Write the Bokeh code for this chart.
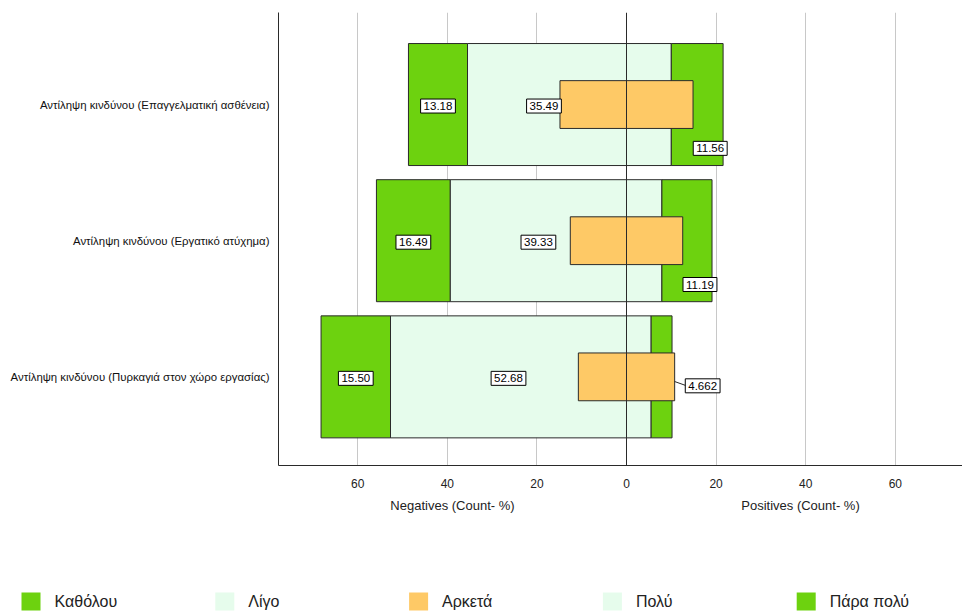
from bokeh.plotting import figure
from bokeh.layouts import column
from bokeh.models import FixedTicker, Span, Label, Range1d
from bokeh.embed import file_html
from bokeh.resources import INLINE

# ---------------- data ----------------
categories = [
    "Αντίληψη κινδύνου (Επαγγελματική ασθένεια)",
    "Αντίληψη κινδύνου (Εργατικό ατύχημα)",
    "Αντίληψη κινδύνου (Πυρκαγιά στον χώρο εργασίας)",
]
levels = ["Καθόλου", "Λίγο", "Αρκετά", "Πολύ", "Πάρα πολύ"]
katholou = [13.18, 16.49, 15.50]
ligo = [35.49, 39.33, 52.68]
arketa = [29.7, 25.1, 21.5]
poly = [10.0, 7.9, 5.5]
para_poly = [11.56, 11.19, 4.662]
x_ticks = [-60, -40, -20, 0, 20, 40, 60]
neg_title = "Negatives (Count- %)"
pos_title = "Positives (Count- %)"

# ---------------- style ----------------
GREEN = "#6dd20f"
LIGHT = "#e6fcec"
ORANGE = "#fec966"
EDGE = "#2a2a2a"
FONT = "Liberation Sans"
level_colors = [GREEN, LIGHT, ORANGE, LIGHT, GREEN]

W = 962
H1, H2 = 490, 122
B_LEFT, B_TOP, B_BOTTOM = 278, 12, 23
X_START = -77.68
PX_PER_UNIT = 4.48
X_END = X_START + (W - B_LEFT) / PX_PER_UNIT
Y_START, Y_END = -0.651, 2.676
BAR_H = 0.896
MID_H = 0.351

frame_w = W - B_LEFT
frame_h = H1 - B_TOP - B_BOTTOM
px_x = frame_w / (X_END - X_START)
px_y = frame_h / (Y_END - Y_START)

p = figure(width=W, height=H1, output_backend="svg", toolbar_location=None,
           x_range=Range1d(X_START, X_END), y_range=Range1d(Y_START, Y_END),
           min_border_left=B_LEFT, min_border_top=B_TOP,
           min_border_bottom=B_BOTTOM, min_border_right=0,
           background_fill_color="white", border_fill_color="white")
p.outline_line_color = None
p.frame_align = False

n = len(categories)
ypos = [n - 1 - i for i in range(n)]

def bar(left, right, h, color):
    r = p.hbar(y=ypos, left=left, right=right, height=h,
               fill_color=color, line_color=None)
    p.hbar(y=ypos, left=left, right=right, height=h,
           fill_color=None, line_color=EDGE, line_width=1)
    return r

k_left = [-(k + l) for k, l in zip(katholou, ligo)]
k_right = [-l for l in ligo]
l_left = [-l for l in ligo]
zeros = [0] * n
po_right = list(poly)
pp_left = list(poly)
pp_right = [a + b for a, b in zip(poly, para_poly)]
a_left = [-a / 2 for a in arketa]
a_right = [a / 2 for a in arketa]

bar(k_left, k_right, BAR_H, GREEN)
bar(l_left, zeros, BAR_H, LIGHT)
bar(zeros, po_right, BAR_H, LIGHT)
bar(pp_left, pp_right, BAR_H, GREEN)

# ---------------- value labels ----------------
LABEL_HALF_PX = 16
label_specs = []   # (x, y, text)
leader = dict(x0=[], y0=[], x1=[], y1=[])
for i in range(n):
    yc = ypos[i]
    label_specs.append((-(ligo[i] + katholou[i] / 2), yc - 1.5 / px_y, f"{katholou[i]:#.4g}"))
    lx = min(-ligo[i] / 2, a_left[i] - LABEL_HALF_PX / px_x)
    label_specs.append((lx, yc - 1.5 / px_y, f"{ligo[i]:#.4g}"))
    seg_c = poly[i] + para_poly[i] / 2
    if para_poly[i] * px_x >= 40:
        label_specs.append((seg_c + 13 / px_x, yc - 44 / px_y, f"{para_poly[i]:#.4g}"))
    else:
        lx2 = a_right[i] + (12 + LABEL_HALF_PX) / px_x
        ly2 = yc - 9 / px_y
        label_specs.append((lx2, ly2, f"{para_poly[i]:#.4g}"))
        leader["x0"].append(seg_c)
        leader["y0"].append(yc)
        leader["x1"].append(lx2 - LABEL_HALF_PX / px_x)
        leader["y1"].append(ly2)

if leader["x0"]:
    p.segment(x0=leader["x0"], y0=leader["y0"], x1=leader["x1"], y1=leader["y1"],
              line_color=EDGE, line_width=1)

bar(a_left, a_right, MID_H, ORANGE)

p.add_layout(Span(location=0, dimension="height", line_color=EDGE, line_width=1))

for x, y, t in label_specs:
    p.add_layout(Label(x=x, y=y, text=t, text_font=FONT, text_font_size="11.5px",
                       text_color="black", text_align="center", text_baseline="middle",
                       background_fill_color="white", border_line_color="black",
                       border_line_width=1, padding=(3, 3)))

# ---------------- axes ----------------
p.xaxis.ticker = FixedTicker(ticks=x_ticks)
p.xaxis.major_label_overrides = {t: str(abs(t)) for t in x_ticks}
p.xaxis.major_tick_line_color = None
p.xaxis.minor_tick_line_color = None
p.xaxis.axis_line_color = EDGE
p.xaxis.major_label_text_font = FONT
p.xaxis.major_label_text_font_size = "12px"
p.xaxis.major_label_text_color = "#222222"
p.xaxis.major_label_standoff = 7

p.yaxis.ticker = FixedTicker(ticks=ypos)
p.yaxis.major_label_overrides = {ypos[i]: categories[i] for i in range(n)}
p.yaxis.major_tick_line_color = None
p.yaxis.minor_tick_line_color = None
p.yaxis.axis_line_color = EDGE
p.yaxis.major_label_text_font = FONT
p.yaxis.major_label_text_font_size = "11.4px"
p.yaxis.major_label_text_color = "#111111"
p.yaxis.major_label_standoff = 3

p.xgrid.ticker = FixedTicker(ticks=[t for t in x_ticks if t != 0])
p.xgrid.grid_line_color = "#c8c8c8"
p.ygrid.grid_line_color = None

# ---------------- bottom strip: axis titles + legend ----------------
# pixel-unit coordinates (y downward from top of strip)
q = figure(width=W, height=H2, output_backend="svg", toolbar_location=None,
           x_range=Range1d(0, W), y_range=Range1d(H2, 0),
           x_axis_location=None, y_axis_location=None,
           min_border=0, min_border_left=0, min_border_right=0,
           min_border_top=0, min_border_bottom=0,
           background_fill_color="white", border_fill_color="white")
q.outline_line_color = None
q.grid.visible = False
q.frame_align = False

def to_px(xd):
    return B_LEFT + (xd - X_START) * px_x

TITLE_Y = 15
q.text(x=[to_px(X_START / 2), to_px(-X_START / 2)], y=[TITLE_Y, TITLE_Y],
       text=[neg_title, pos_title], text_font_size="13px", text_color="#222222",
       text_align="center", text_baseline="middle", text_font={"value": FONT})

LEG_X0, LEG_PITCH, LEG_Y = 21, 193.8, 111
SW = 19
idx = list(range(len(levels)))
q.rect(x=[LEG_X0 + LEG_PITCH * i + SW / 2 for i in idx], y=[LEG_Y] * len(idx),
       width=SW, height=18, fill_color=level_colors, line_color=None)
q.text(x=[LEG_X0 + LEG_PITCH * i + SW + 14 for i in idx], y=[LEG_Y] * len(idx),
       text=levels, text_font_size="16px", text_color="#222222",
       text_align="left", text_baseline="middle", text_font={"value": FONT})

layout = column(p, q, spacing=0)
open("out.html", "w").write(file_html(layout, INLINE))
